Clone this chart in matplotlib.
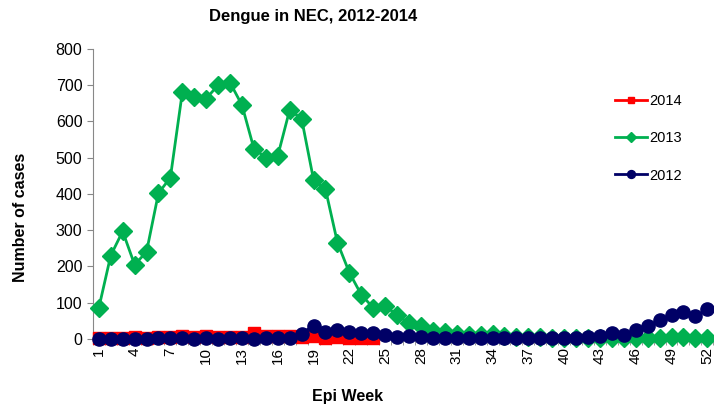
import numpy as np
import matplotlib.pyplot as plt

plt.rcParams['font.family'] = ['Liberation Sans', 'DejaVu Sans']

weeks = list(range(1, 53))

cases_2014 = [3, 2, 4, 5, 4, 6, 5, 7, 6, 7, 6, 6, 5, 17, 7, 8, 8, 5, 8, 3,
              5, 3, 2, 2]

cases_2013 = [85, 230, 297, 205, 240, 402, 445, 680, 668, 663, 700, 707, 645,
              525, 500, 505, 632, 607, 439, 413, 266, 183, 122, 86, 91, 66,
              43, 36, 23, 18, 14, 12, 10, 13, 7, 6, 5, 6, 4, 3, 3, 3, 4, 3,
              3, 4, 2, 3, 5, 5, 4, 3]

cases_2012 = [0, 0, 1, 1, 0, 2, 2, 2, 1, 2, 1, 2, 2, 1, 3, 2, 4, 15, 37, 20,
              25, 18, 16, 17, 12, 5, 7, 5, 4, 4, 3, 4, 3, 3, 2, 3, 3, 4, 4,
              3, 4, 5, 8, 17, 11, 25, 36, 51, 66, 74, 62, 82]

fig = plt.figure(figsize=(7.14, 4.04), dpi=100)
ax = fig.add_axes([0.130, 0.161, 0.869, 0.718])

ax.plot(weeks, cases_2013, color="#00B050", lw=2, marker="D", ms=9,
        label="2013", clip_on=False, zorder=3)
ax.plot(weeks[:len(cases_2014)], cases_2014, color="#FF0000", lw=2,
        marker="s", ms=8, label="2014", clip_on=False, zorder=4)
ax.plot(weeks, cases_2012, color="#000066", lw=2, marker="o", ms=9.5,
        label="2012", clip_on=False, zorder=5)

ax.set_xlim(0.5, 52.5)
ax.set_ylim(0, 800)
ax.set_yticks(range(0, 801, 100))
ax.set_xticks(weeks[::3])
ax.set_xticklabels([str(w) for w in weeks[::3]], rotation=90)
ax.set_xticks(np.arange(0.5, 53, 1), minor=True)
ax.tick_params(axis="x", which="major", length=0, labelsize=11, pad=6)
ax.tick_params(axis="x", which="minor", length=4, color="#888888")
ax.tick_params(axis="y", length=4, labelsize=11.5, color="#888888")

for s in ["top", "right"]:
    ax.spines[s].set_visible(False)
ax.spines["left"].set_color("#888888")
ax.spines["bottom"].set_color("#888888")

ax.set_title("Dengue in NEC, 2012-2014", fontsize=12, fontweight="bold",
             x=0.355, pad=20)
ax.set_ylabel("Number of cases", fontsize=11.5, fontweight="bold",
              labelpad=20, y=0.42)
ax.set_xlabel("Epi Week", fontsize=11.5, fontweight="bold", x=0.41, labelpad=18)

h, l = ax.get_legend_handles_labels()
order = [1, 0, 2]
ax.legend([h[i] for i in order], [l[i] for i in order], loc="upper left",
          bbox_to_anchor=(0.82, 0.89), frameon=False, fontsize=10.5,
          labelspacing=1.6, handlelength=2.2, handletextpad=0.2, markerscale=0.6)

plt.savefig("out.png", dpi=100)
